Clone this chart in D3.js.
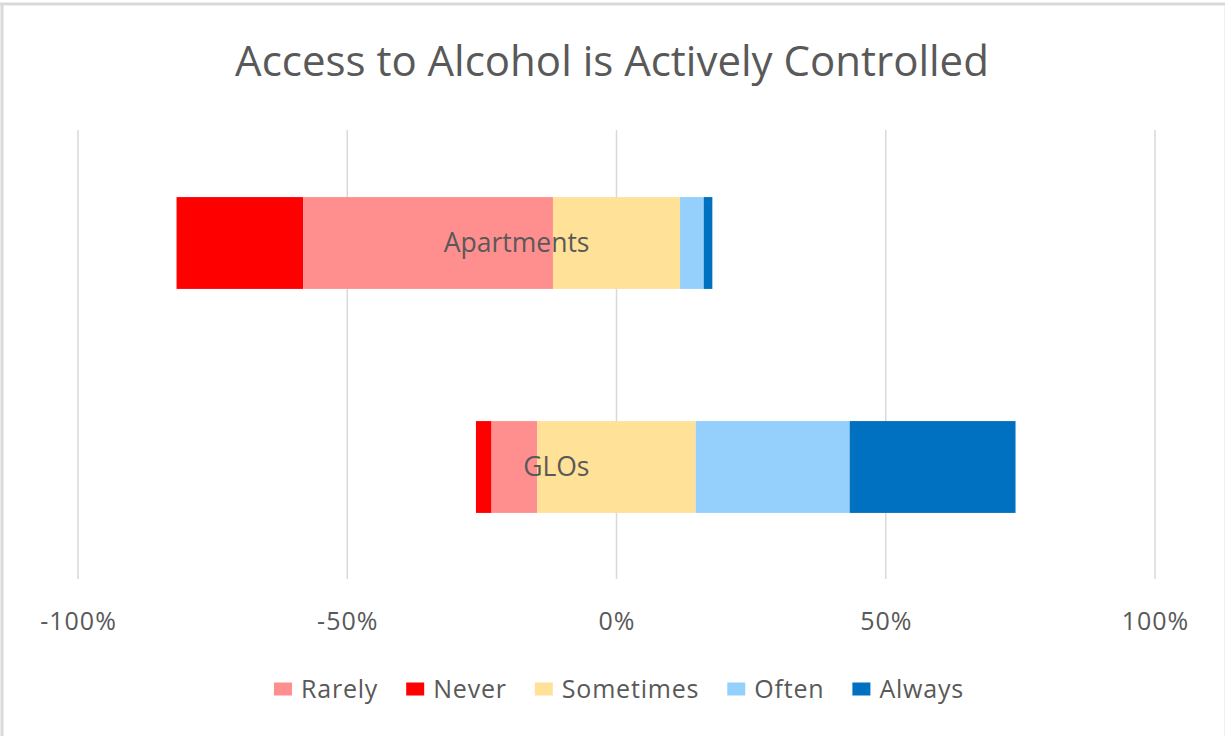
<!DOCTYPE html>
<html>
<head>
<meta charset="utf-8">
<script src="https://cdn.jsdelivr.net/npm/d3@7"></script>
<style>
  body { margin: 0; background: #fff; }
  svg text { font-family: "Open Sans", "Liberation Sans", sans-serif; fill: #595959; }
</style>
</head>
<body>
<svg id="chart" width="1225" height="736"></svg>
<script>
// categories, from top to bottom
var categories = ["Apartments", "GLOs"];

// series values (percent of answers)
var never     = [23.5, 2.9];
var rarely    = [46.4, 8.5];
var sometimes = [23.6, 29.4];
var often     = [4.4, 28.6];
var always    = [1.6, 30.8];

var xTicks = [-100, -50, 0, 50, 100];

// legend order as in the reference
var legendNames = ["Rarely", "Never", "Sometimes", "Often", "Always"];
var colors = {
	Rarely: "#ff8f8f",
	Never: "#ff0000",
	Sometimes: "#ffe297",
	Often: "#95d0fd",
	Always: "#0070c0"
};

var svg = d3.select("#chart");

// frame (only top and left edges show in the reference)
svg.append("line").attr("x1", 0).attr("x2", 1225).attr("y1", 4).attr("y2", 4)
	.attr("stroke", "#d9d9d9").attr("stroke-width", 3);
svg.append("line").attr("x1", 2).attr("x2", 2).attr("y1", 3).attr("y2", 736)
	.attr("stroke", "#d9d9d9").attr("stroke-width", 3);
svg.append("line").attr("x1", 1224.5).attr("x2", 1224.5).attr("y1", 5).attr("y2", 736)
	.attr("stroke", "#f0f0f0").attr("stroke-width", 1);

var x = d3.scaleLinear().domain([-100, 100]).range([78, 1155]);
var y = d3.scaleBand().domain(categories).range([131, 579])
	.paddingInner(0.59).paddingOuter(0.295);

// gridlines
svg.append("g").selectAll("line")
	.data(xTicks)
	.enter().append("line")
	.attr("x1", function(d){ return x(d); })
	.attr("x2", function(d){ return x(d); })
	.attr("y1", 130).attr("y2", 579)
	.attr("stroke", "#d9d9d9").attr("stroke-width", 1.5);

// build segments: Never, Rarely, half Sometimes to the left of 0; rest to the right
var segments = [];
categories.forEach(function(c, i){
	var half = sometimes[i] / 2;
	var left = -(never[i] + rarely[i] + half);
	var parts = [
		["Never", never[i]], ["Rarely", rarely[i]], ["Sometimes", sometimes[i]],
		["Often", often[i]], ["Always", always[i]]
	];
	var pos = left;
	parts.forEach(function(p){
		segments.push({ cat: c, name: p[0], x0: pos, x1: pos + p[1] });
		pos += p[1];
	});
});

svg.append("g").selectAll("rect")
	.data(segments)
	.enter().append("rect")
	.attr("x", function(d){ return x(d.x0); })
	.attr("width", function(d){ return x(d.x1) - x(d.x0); })
	.attr("y", function(d){ return y(d.cat); })
	.attr("height", y.bandwidth())
	.attr("fill", function(d){ return colors[d.name]; });

// category labels sit just left of the 0 axis, over the bars
svg.append("g").selectAll("text")
	.data(categories)
	.enter().append("text")
	.attr("x", x(0) - 27)
	.attr("y", function(d){ return y(d) + y.bandwidth() / 2; })
	.attr("dy", "0.35em")
	.attr("text-anchor", "end")
	.style("font-size", "26.5px")
	.text(function(d){ return d; });

// x axis labels
var axis = d3.axisBottom(x).tickValues(xTicks).tickSize(0).tickPadding(0)
	.tickFormat(function(d){ return d + "%"; });
var gx = svg.append("g").attr("transform", "translate(0,612)").call(axis);
gx.select(".domain").remove();
gx.selectAll("text")
	.style("font-size", "25px")
	.style("letter-spacing", "1px")
	.style("font-family", "\"Open Sans\", \"Liberation Sans\", sans-serif")
	.attr("fill", "#595959");

// title
svg.append("text")
	.attr("x", 612).attr("y", 76)
	.attr("text-anchor", "middle")
	.style("font-size", "42px")
	.text("Access to Alcohol is Actively Controlled");

// legend, laid out by measured text widths and centered
var legend = svg.append("g");
var items = legend.selectAll("g")
	.data(legendNames)
	.enter().append("g");
items.append("rect")
	.attr("width", 18).attr("height", 13)
	.attr("y", -6.5)
	.attr("fill", function(d){ return colors[d]; });
items.append("text")
	.attr("x", 27)
	.attr("dy", "0.35em")
	.style("font-size", "25px")
	.style("letter-spacing", "0.8px")
	.text(function(d){ return d; });
var cursor = 0;
items.each(function(){
	var g = d3.select(this);
	var w = g.select("text").node().getComputedTextLength();
	g.attr("transform", "translate(" + cursor + ",0)");
	cursor += 27 + w + 28;
});
cursor -= 28;
legend.attr("transform", "translate(" + (619 - cursor / 2) + ",689)");
</script>
</body>
</html>
